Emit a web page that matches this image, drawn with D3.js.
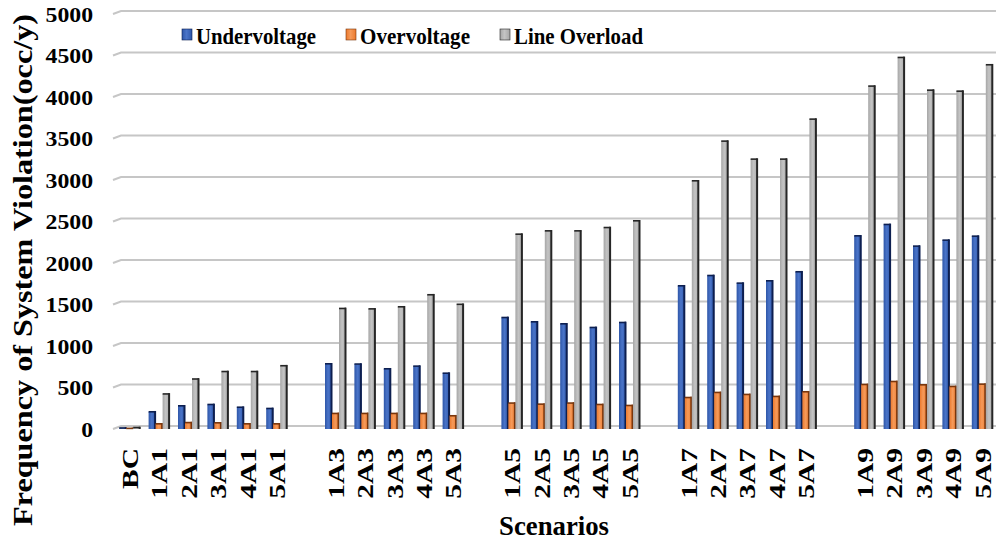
<!DOCTYPE html>
<html>
<head>
<meta charset="utf-8">
<script src="https://cdn.jsdelivr.net/npm/d3@7"></script>
<style>
  body { margin: 0; background: #fff; }
  text { font-family: "Liberation Serif", "Times New Roman", serif; font-weight: bold; }
</style>
</head>
<body>
<div id="container"></div>
<script>
let w = 996;
let h = 542;

// scenarios, gaps between the groups are empty slots
let scenarios = ["BC", "1A1", "2A1", "3A1", "4A1", "5A1", "gap1",
  "1A3", "2A3", "3A3", "4A3", "5A3", "gap2",
  "1A5", "2A5", "3A5", "4A5", "5A5", "gap3",
  "1A7", "2A7", "3A7", "4A7", "5A7", "gap4",
  "1A9", "2A9", "3A9", "4A9", "5A9"];

let seriesNames = ["Undervoltage", "Overvoltage", "Line Overload"];

let undervoltage = [10, 205, 277, 293, 260, 245, null,
  783, 780, 723, 755, 670, null,
  1341, 1289, 1265, 1221, 1281, null,
  1723, 1847, 1755, 1783, 1892, null,
  2325, 2462, 2201, 2273, 2321];
let overvoltage = [5, 60, 75, 72, 60, 60, null,
  185, 185, 185, 185, 157, null,
  310, 297, 310, 293, 281, null,
  377, 438, 414, 390, 446, null,
  534, 570, 530, 510, 538];
let lineOverload = [15, 420, 600, 690, 690, 760, null,
  1450, 1445, 1470, 1615, 1500, null,
  2345, 2385, 2385, 2425, 2506, null,
  2988, 3466, 3249, 3249, 3731, null,
  4129, 4474, 4080, 4068, 4386];

let yTicks = [0, 500, 1000, 1500, 2000, 2500, 3000, 3500, 4000, 4500, 5000];

let colors = ["#2e56a8", "#ec7a2e", "#a6a6a6"];
let edgeColors = ["#0d1f50", "#7a360c", "#262626"];
let lightColors = ["#4a74c8", "#f59a5a", "#c4c4c4"];

let viz = d3.select("#container")
  .append("svg")
  .attr("width", w)
  .attr("height", h)
  .style("background-color", "white");

// gradients for the bars
let defs = viz.append("defs");
seriesNames.forEach(function(name, i){
  let g = defs.append("linearGradient").attr("id", "grad" + i)
    .attr("x1", "0%").attr("x2", "100%").attr("y1", "0%").attr("y2", "0%");
  g.append("stop").attr("offset", "0%").attr("stop-color", colors[i]);
  g.append("stop").attr("offset", "45%").attr("stop-color", lightColors[i]);
  g.append("stop").attr("offset", "100%").attr("stop-color", colors[i]);
});

// scales
let xScale = d3.scaleBand().domain(scenarios).range([115, 997]).padding(0);
let yScale = d3.scaleLinear().domain([0, 5000]).range([429, 14]);

let seriesScale = d3.scaleBand().domain(seriesNames).range([-10.5, 10.5]).padding(0);

// gridlines (back wall, slightly raised, with little slanted start)
let grid = viz.append("g").attr("class", "grid").attr("transform", "translate(0,-3)");
grid.selectAll("path").data(yTicks).enter()
  .append("path")
  .attr("d", function(d){
    let y = yScale(d);
    return "M113," + (y + 3) + "L121," + y + "L996," + y;
  })
  .style("fill", "none")
  .style("stroke", "#c6c6c6")
  .style("stroke-width", 2);

// y axis labels
let yAxisGroup = viz.append("g").attr("class", "yAxis").attr("transform", "translate(93,0)");
let yAxis = d3.axisLeft(yScale).tickValues(yTicks).tickSize(0).tickPadding(0).tickFormat(d3.format("d"));
yAxisGroup.call(yAxis);
yAxisGroup.select(".domain").remove();
yAxisGroup.selectAll("text")
  .attr("x", 0)
  .attr("transform", "scale(1.08,1)")
  .style("font-size", "22px")
  .style("fill", "#000");

// x axis labels (rotated, stretched along the text like the original)
let xAxisGroup = viz.append("g").attr("class", "xAxis").attr("transform", "translate(0,429)");
let xAxis = d3.axisBottom(xScale).tickSize(0).tickFormat(function(d){
  return d.indexOf("gap") == 0 ? "" : d;
});
xAxisGroup.call(xAxis);
xAxisGroup.select(".domain").remove();
xAxisGroup.selectAll("text")
  .attr("transform", "rotate(-90) scale(1.28,1)")
  .attr("x", -19 / 1.28)
  .attr("y", 0)
  .attr("dy", "0.36em")
  .style("text-anchor", "end")
  .style("font-size", "23px")
  .style("fill", "#000");

// bars
let allSeries = [undervoltage, overvoltage, lineOverload];
let barData = [];
scenarios.forEach(function(s, i){
  allSeries.forEach(function(arr, k){
    if(arr[i] != null){
      barData.push({scenario: s, series: seriesNames[k], k: k, value: arr[i]});
    }
  });
});

let barGroups = viz.append("g").attr("class", "bars")
  .selectAll(".bar").data(barData).enter()
  .append("g")
  .attr("class", "bar")
  .attr("transform", function(d){
    let cx = xScale(d.scenario) + xScale.bandwidth() / 2 + seriesScale(d.series);
    return "translate(" + cx + ",0)";
  });

let bw = seriesScale.bandwidth();

barGroups.append("rect")
  .attr("x", 0)
  .attr("y", function(d){ return yScale(d.value); })
  .attr("width", bw)
  .attr("height", function(d){ return yScale(0) - yScale(d.value); })
  .style("fill", function(d){ return "url(#grad" + d.k + ")"; });

// dark right side
barGroups.append("rect")
  .attr("x", bw - 1.5)
  .attr("y", function(d){ return yScale(d.value) - 1; })
  .attr("width", 2)
  .attr("height", function(d){ return yScale(0) - yScale(d.value) + 1; })
  .style("fill", function(d){ return edgeColors[d.k]; });

// dark top
barGroups.append("rect")
  .attr("x", 0)
  .attr("y", function(d){ return yScale(d.value) - 1; })
  .attr("width", bw)
  .attr("height", 1.6)
  .style("fill", function(d){ return edgeColors[d.k]; });

// legend
let legendX = [182, 346, 500];
let legendTextLen = [120, 110, 129];
let legend = viz.append("g").attr("class", "legend")
  .selectAll("g").data(seriesNames).enter()
  .append("g")
  .attr("transform", function(d, i){ return "translate(" + legendX[i] + ",0)"; });

legend.append("rect")
  .attr("x", 0).attr("y", 29)
  .attr("width", 10).attr("height", 11)
  .style("fill", function(d, i){ return "url(#grad" + i + ")"; })
  .style("stroke", function(d, i){ return edgeColors[i]; })
  .style("stroke-width", 0.6);

legend.append("text")
  .attr("x", 14).attr("y", 44)
  .attr("textLength", function(d, i){ return legendTextLen[i]; })
  .attr("lengthAdjust", "spacingAndGlyphs")
  .text(function(d){ return d; })
  .style("font-size", "24px")
  .style("fill", "#000");

// axis titles
viz.append("text")
  .attr("transform", "translate(32,270) rotate(-90)")
  .attr("text-anchor", "middle")
  .attr("textLength", 512)
  .attr("lengthAdjust", "spacingAndGlyphs")
  .style("font-size", "27px")
  .style("fill", "#000")
  .text("Frequency of System Violation(occ/y)");

viz.append("text")
  .attr("x", 554)
  .attr("y", 535)
  .attr("text-anchor", "middle")
  .attr("textLength", 110)
  .attr("lengthAdjust", "spacingAndGlyphs")
  .style("font-size", "27px")
  .style("fill", "#000")
  .text("Scenarios");
</script>
</body>
</html>
